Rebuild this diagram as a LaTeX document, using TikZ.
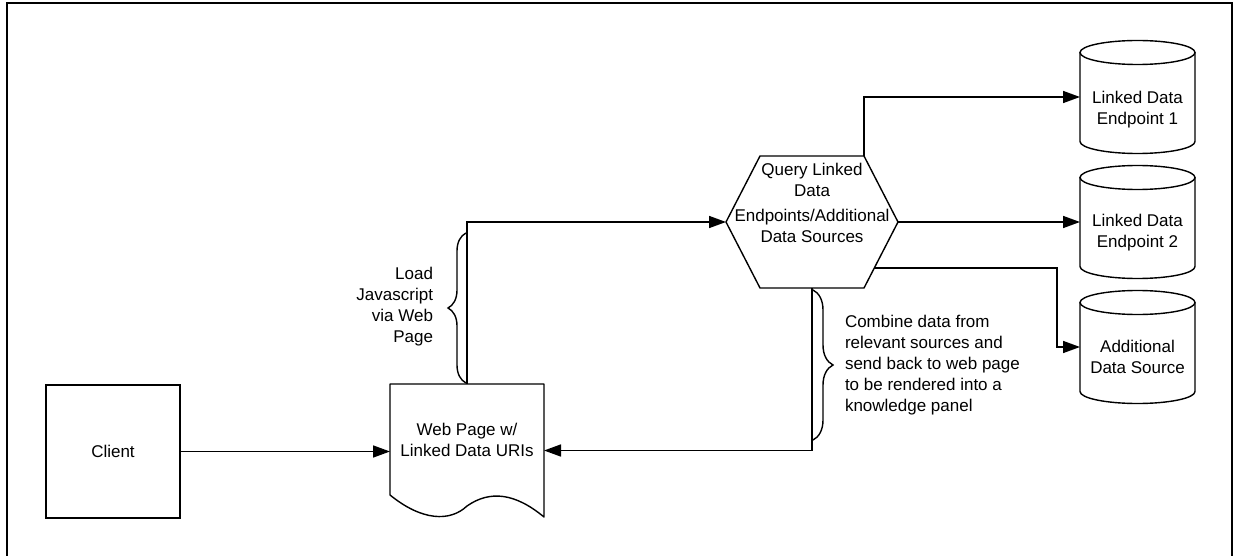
\documentclass[tikz,border=0pt]{standalone}
\usepackage{fontspec}
\setmainfont{Liberation Sans}
\usetikzlibrary{arrows.meta,calc,decorations.pathreplacing}
\begin{document}
\begin{tikzpicture}[x=1pt,y=-1pt,
  every node/.style={font=\fontsize{17pt}{21pt}\selectfont, inner sep=0pt, outer sep=0pt},
  shp/.style={draw=black, line width=1.4pt},
  conn/.style={draw=black, line width=1.6pt},
  arr/.style={conn, -{Triangle[length=17pt,width=12pt]}},
  brc/.style={shp, decorate, decoration={brace, amplitude=#1}},
]
\useasboundingbox (0,0) rectangle (1233,556);
\clip (0,0) rectangle (1233,556);
\draw[line width=2.2pt] (7,3) rectangle (1232,600);

% Client
\node[shp, minimum width=134pt, minimum height=133pt] (client) at (113,451.5) {Client};

% Web page document
\node[minimum width=154pt, minimum height=133pt] (web) at (467,450.5) {};
\draw[shp, line join=round] ($(web.south west)+(0,-22)$) -- (web.north west) -- (web.north east) -- (web.south east)
  .. controls (515,493) and (490,490) .. (467,506)
  .. controls (450,522) and (422,521) .. ($(web.south west)+(0,-22)$) -- cycle;
\node[align=center] (webtxt) at (467,440) {Web Page w/\\Linked Data URIs};

% Hexagon
\node[minimum width=172pt, minimum height=132pt] (hex) at (812,222) {};
\coordinate (hexTL) at (760,156);
\coordinate (hexTR) at (864,156);
\coordinate (hexBR) at (864,288);
\coordinate (hexBL) at (760,288);
\draw[shp, line join=round] (hex.west) -- (hexTL) -- (hexTR) -- (hex.east) -- (hexBR) -- (hexBL) -- cycle;
\node[align=center] (hq1) at (812,180) {Query Linked\\Data};
\node[align=center] (hq2) at (812,225.5) {Endpoints/Additional\\Data Sources};

% Cylinders
\node[minimum width=115pt, minimum height=113pt] (ep1) at (1137.5,97) {};
\node[minimum width=115pt, minimum height=113pt] (ep2) at (1137.5,222) {};
\node[minimum width=115pt, minimum height=113pt] (ep3) at (1137.5,347) {};
\foreach \n in {ep1,ep2,ep3}{
  \draw[shp] ($(\n.north west)+(0,12)$) -- ($(\n.south west)+(0,-12)$)
     arc[start angle=180,end angle=360,x radius=57.5pt,y radius=12pt]
     -- ($(\n.north east)+(0,12)$);
  \draw[shp] ($(\n.north)+(0,12)$) ellipse[x radius=57.5pt, y radius=12pt];
}
\node[align=center] (ep1t) at (1137.5,110) {Linked Data\\Endpoint 1};
\node[align=center] (ep2t) at (1137.5,233) {Linked Data\\Endpoint 2};
\node[align=center] (ep3t) at (1137.5,357) {Additional\\Data Source};

% Connectors
\draw[arr] (client.east) -- (client.east -| web.west);
\draw[arr] (web.north) |- (hex.west);
\draw[arr] (hexTR) |- (ep1.west);
\draw[arr] (hex.east) -- (ep2.west);
\coordinate (hexE3) at (874.3,268);
\coordinate (bend3) at (1057,268);
\draw[arr] (hexE3) -- (bend3) |- (ep3.west);
\draw[arr] (hex.south) |- (web.east);

% Braces
\coordinate (lbA) at (466,383);
\coordinate (lbB) at (466,233);
\draw[brc=18pt] (lbA) -- (lbB);
\coordinate (rbA) at (813,290);
\coordinate (rbB) at (813,440);
\draw[brc=20pt] (rbA) -- (rbB);

% Labels
\node[align=right, anchor=east] (loadtxt) at (433,306.5) {Load\\Javascript\\via Web\\Page};
\node[align=left, anchor=west] (combtxt) at (845,365) {Combine data from\\relevant sources and\\send back to web page\\to be rendered into a\\knowledge panel};
\end{tikzpicture}
\end{document}
